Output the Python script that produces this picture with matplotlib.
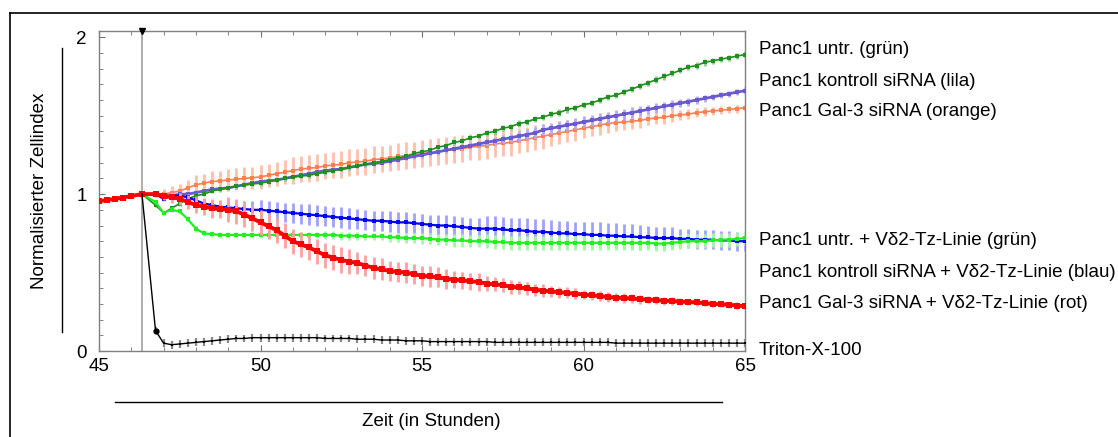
import matplotlib
matplotlib.use("Agg")
import matplotlib.pyplot as plt
import matplotlib.transforms as mtransforms
from matplotlib.lines import Line2D
from matplotlib.ticker import MultipleLocator

plt.rcParams['font.family'] = ['Liberation Sans', 'DejaVu Sans']

# ---------------- data ----------------
# before treatment (normalisation point at 46.33 h)
pre_t = [45.0, 45.25, 45.5, 45.75, 46.0, 46.33]
pre_v = [0.955, 0.962, 0.970, 0.978, 0.988, 1.0]
pre_e = [0.005, 0.005, 0.005, 0.005, 0.005, 0.005]
treatment_time = 46.33

times = [46.75, 47.0, 47.25, 47.5, 47.75,
         48.0, 48.25, 48.5, 48.75, 49.0, 49.25, 49.5, 49.75,
         50.0, 50.25, 50.5, 50.75, 51.0, 51.25, 51.5, 51.75,
         52.0, 52.25, 52.5, 52.75, 53.0, 53.25, 53.5, 53.75,
         54.0, 54.25, 54.5, 54.75, 55.0, 55.25, 55.5, 55.75,
         56.0, 56.25, 56.5, 56.75, 57.0, 57.25, 57.5, 57.75,
         58.0, 58.25, 58.5, 58.75, 59.0, 59.25, 59.5, 59.75,
         60.0, 60.25, 60.5, 60.75, 61.0, 61.25, 61.5, 61.75,
         62.0, 62.25, 62.5, 62.75, 63.0, 63.25, 63.5, 63.75,
         64.0, 64.25, 64.5, 64.75, 65.0]

untr = [0.93, 0.88, 0.91, 0.94, 0.97,
        0.99, 1.00, 1.02, 1.03, 1.04, 1.05, 1.06, 1.065,
        1.07, 1.08, 1.09, 1.10, 1.11, 1.115, 1.12, 1.13,
        1.14, 1.15, 1.16, 1.17, 1.18, 1.19, 1.20, 1.21,
        1.22, 1.23, 1.24, 1.26, 1.27, 1.28, 1.30, 1.31,
        1.33, 1.34, 1.36, 1.37, 1.39, 1.40, 1.42, 1.43,
        1.45, 1.46, 1.48, 1.49, 1.51, 1.52, 1.54, 1.55,
        1.57, 1.58, 1.60, 1.62, 1.63, 1.65, 1.67, 1.69,
        1.71, 1.73, 1.75, 1.77, 1.79, 1.81, 1.82, 1.84,
        1.85, 1.86, 1.87, 1.88, 1.89]
untr_err = [0.01, 0.015, 0.015, 0.015, 0.015,
            0.015, 0.015, 0.015, 0.015, 0.015, 0.015, 0.015, 0.015,
            0.015, 0.015, 0.015, 0.015, 0.015, 0.015, 0.015, 0.015,
            0.015, 0.015, 0.015, 0.015, 0.015, 0.015, 0.015, 0.015,
            0.015, 0.015, 0.015, 0.015, 0.015, 0.015, 0.015, 0.015,
            0.015, 0.015, 0.015, 0.015, 0.02, 0.02, 0.02, 0.02,
            0.02, 0.02, 0.02, 0.02, 0.02, 0.02, 0.02, 0.02,
            0.02, 0.02, 0.02, 0.02, 0.02, 0.02, 0.02, 0.02,
            0.02, 0.02, 0.02, 0.02, 0.02, 0.02, 0.02, 0.02,
            0.02, 0.02, 0.02, 0.02, 0.02]

ctrl = [1.00, 0.99, 0.99, 1.00, 1.00,
        1.01, 1.02, 1.03, 1.035, 1.04, 1.05, 1.06, 1.07,
        1.08, 1.085, 1.09, 1.10, 1.11, 1.12, 1.13, 1.14,
        1.15, 1.155, 1.16, 1.17, 1.18, 1.19, 1.195, 1.20,
        1.21, 1.22, 1.23, 1.24, 1.25, 1.26, 1.27, 1.28,
        1.29, 1.30, 1.31, 1.32, 1.33, 1.34, 1.35, 1.36,
        1.37, 1.38, 1.39, 1.41, 1.42, 1.43, 1.44, 1.45,
        1.46, 1.47, 1.48, 1.49, 1.50, 1.51, 1.52, 1.53,
        1.54, 1.55, 1.56, 1.57, 1.58, 1.59, 1.60, 1.61,
        1.62, 1.63, 1.64, 1.65, 1.66]
ctrl_err = [0.01, 0.01, 0.015, 0.015, 0.015,
            0.015, 0.015, 0.015, 0.015, 0.015, 0.015, 0.015, 0.015,
            0.015, 0.015, 0.015, 0.015, 0.015, 0.015, 0.015, 0.015,
            0.015, 0.015, 0.015, 0.015, 0.015, 0.015, 0.015, 0.015,
            0.015, 0.015, 0.015, 0.015, 0.02, 0.02, 0.02, 0.02,
            0.02, 0.02, 0.02, 0.02, 0.025, 0.025, 0.025, 0.025,
            0.035, 0.035, 0.035, 0.035, 0.035, 0.035, 0.035, 0.035,
            0.035, 0.035, 0.035, 0.035, 0.035, 0.035, 0.035, 0.035,
            0.03, 0.03, 0.03, 0.03, 0.025, 0.025, 0.025, 0.025,
            0.02, 0.02, 0.02, 0.02, 0.02]

gal3 = [1.00, 1.00, 1.01, 1.02, 1.04,
        1.06, 1.07, 1.08, 1.085, 1.09, 1.095, 1.10, 1.105,
        1.11, 1.12, 1.13, 1.14, 1.15, 1.16, 1.165, 1.17,
        1.18, 1.185, 1.19, 1.20, 1.205, 1.21, 1.22, 1.225,
        1.23, 1.24, 1.245, 1.25, 1.26, 1.265, 1.27, 1.28,
        1.285, 1.29, 1.30, 1.305, 1.31, 1.32, 1.325, 1.33,
        1.34, 1.35, 1.36, 1.37, 1.38, 1.39, 1.40, 1.41,
        1.42, 1.43, 1.44, 1.45, 1.455, 1.46, 1.465, 1.47,
        1.48, 1.485, 1.49, 1.50, 1.505, 1.51, 1.52, 1.525,
        1.53, 1.535, 1.54, 1.545, 1.55]
gal3_err = [0.02, 0.03, 0.04, 0.045, 0.05,
            0.06, 0.06, 0.065, 0.065, 0.07, 0.07, 0.07, 0.07,
            0.075, 0.075, 0.075, 0.075, 0.085, 0.085, 0.085, 0.085,
            0.085, 0.085, 0.085, 0.085, 0.085, 0.085, 0.085, 0.085,
            0.085, 0.085, 0.085, 0.085, 0.085, 0.085, 0.085, 0.085,
            0.085, 0.085, 0.085, 0.085, 0.085, 0.085, 0.085, 0.085,
            0.08, 0.08, 0.08, 0.08, 0.07, 0.07, 0.07, 0.07,
            0.06, 0.06, 0.06, 0.06, 0.05, 0.05, 0.05, 0.05,
            0.04, 0.04, 0.04, 0.04, 0.03, 0.03, 0.03, 0.03,
            0.025, 0.025, 0.025, 0.025, 0.02]

untr_t = [0.95, 0.88, 0.90, 0.89, 0.84,
          0.78, 0.75, 0.745, 0.74, 0.74, 0.74, 0.74, 0.74,
          0.74, 0.74, 0.74, 0.74, 0.74, 0.74, 0.74, 0.74,
          0.74, 0.74, 0.735, 0.735, 0.735, 0.73, 0.73, 0.73,
          0.725, 0.725, 0.72, 0.72, 0.72, 0.715, 0.71, 0.71,
          0.705, 0.705, 0.70, 0.70, 0.70, 0.695, 0.695, 0.69,
          0.69, 0.69, 0.69, 0.69, 0.69, 0.69, 0.69, 0.69,
          0.69, 0.69, 0.69, 0.69, 0.69, 0.69, 0.69, 0.69,
          0.69, 0.685, 0.685, 0.69, 0.695, 0.70, 0.70, 0.70,
          0.705, 0.71, 0.71, 0.715, 0.72]
untr_t_err = [0.01, 0.015, 0.015, 0.015, 0.02,
              0.02, 0.02, 0.02, 0.02, 0.02, 0.02, 0.02, 0.02,
              0.02, 0.02, 0.02, 0.02, 0.02, 0.02, 0.02, 0.02,
              0.025, 0.025, 0.025, 0.025, 0.025, 0.025, 0.025, 0.025,
              0.03, 0.03, 0.03, 0.03, 0.035, 0.035, 0.035, 0.035,
              0.04, 0.04, 0.04, 0.04, 0.045, 0.045, 0.045, 0.045,
              0.045, 0.045, 0.045, 0.045, 0.045, 0.045, 0.045, 0.045,
              0.045, 0.045, 0.045, 0.045, 0.045, 0.045, 0.045, 0.045,
              0.045, 0.045, 0.045, 0.045, 0.045, 0.045, 0.045, 0.045,
              0.045, 0.045, 0.045, 0.045, 0.045]

ctrl_t = [1.00, 0.97, 0.99, 0.99, 0.98,
          0.96, 0.94, 0.93, 0.92, 0.915, 0.91, 0.905, 0.90,
          0.90, 0.895, 0.89, 0.885, 0.88, 0.875, 0.87, 0.865,
          0.86, 0.855, 0.85, 0.845, 0.84, 0.835, 0.83, 0.83,
          0.825, 0.82, 0.82, 0.815, 0.81, 0.805, 0.80, 0.80,
          0.795, 0.79, 0.785, 0.78, 0.78, 0.78, 0.775, 0.77,
          0.77, 0.765, 0.76, 0.76, 0.755, 0.75, 0.75, 0.745,
          0.745, 0.74, 0.74, 0.735, 0.735, 0.73, 0.73, 0.725,
          0.725, 0.72, 0.72, 0.72, 0.715, 0.715, 0.71, 0.71,
          0.71, 0.705, 0.705, 0.70, 0.70]
ctrl_t_err = [0.01, 0.015, 0.02, 0.02, 0.02,
              0.025, 0.03, 0.035, 0.035, 0.04, 0.045, 0.05, 0.055,
              0.06, 0.06, 0.06, 0.06, 0.065, 0.065, 0.065, 0.065,
              0.065, 0.065, 0.065, 0.065, 0.065, 0.065, 0.065, 0.065,
              0.065, 0.065, 0.065, 0.065, 0.065, 0.065, 0.065, 0.065,
              0.065, 0.065, 0.065, 0.065, 0.08, 0.08, 0.08, 0.08,
              0.08, 0.08, 0.08, 0.08, 0.08, 0.08, 0.08, 0.08,
              0.08, 0.08, 0.08, 0.08, 0.08, 0.08, 0.08, 0.08,
              0.07, 0.07, 0.07, 0.07, 0.06, 0.06, 0.06, 0.06,
              0.06, 0.06, 0.06, 0.06, 0.06]

gal3_t = [1.00, 0.99, 0.98, 0.97, 0.95,
          0.93, 0.92, 0.91, 0.905, 0.90, 0.89, 0.87, 0.845,
          0.82, 0.795, 0.77, 0.735, 0.70, 0.68, 0.66, 0.635,
          0.61, 0.595, 0.58, 0.57, 0.56, 0.545, 0.53, 0.52,
          0.51, 0.505, 0.50, 0.49, 0.48, 0.475, 0.47, 0.46,
          0.455, 0.45, 0.445, 0.44, 0.43, 0.425, 0.42, 0.41,
          0.405, 0.40, 0.39, 0.385, 0.38, 0.375, 0.37, 0.365,
          0.36, 0.355, 0.35, 0.345, 0.34, 0.338, 0.335, 0.33,
          0.328, 0.325, 0.32, 0.318, 0.315, 0.312, 0.31, 0.305,
          0.30, 0.298, 0.295, 0.29, 0.285]
gal3_t_err = [0.02, 0.03, 0.035, 0.04, 0.045,
              0.05, 0.055, 0.06, 0.06, 0.08, 0.08, 0.08, 0.08,
              0.08, 0.08, 0.08, 0.08, 0.08, 0.08, 0.08, 0.08,
              0.08, 0.08, 0.08, 0.08, 0.07, 0.07, 0.07, 0.07,
              0.065, 0.065, 0.065, 0.065, 0.065, 0.065, 0.065, 0.065,
              0.055, 0.055, 0.055, 0.055, 0.045, 0.045, 0.045, 0.045,
              0.04, 0.04, 0.04, 0.04, 0.035, 0.035, 0.035, 0.035,
              0.03, 0.03, 0.03, 0.03, 0.03, 0.03, 0.03, 0.03,
              0.025, 0.025, 0.025, 0.025, 0.02, 0.02, 0.02, 0.02,
              0.02, 0.02, 0.02, 0.02, 0.015]

triton = [0.13, 0.05, 0.04, 0.045, 0.05,
          0.055, 0.06, 0.065, 0.07, 0.075, 0.08, 0.08, 0.085,
          0.085, 0.085, 0.085, 0.085, 0.085, 0.085, 0.085, 0.085,
          0.08, 0.08, 0.08, 0.08, 0.075, 0.075, 0.075, 0.07,
          0.07, 0.07, 0.065, 0.065, 0.065, 0.06, 0.06, 0.06,
          0.06, 0.06, 0.06, 0.06, 0.06, 0.055, 0.055, 0.055,
          0.055, 0.055, 0.055, 0.055, 0.055, 0.055, 0.055, 0.055,
          0.055, 0.055, 0.055, 0.055, 0.05, 0.05, 0.05, 0.05,
          0.05, 0.05, 0.05, 0.05, 0.05, 0.05, 0.05, 0.05,
          0.05, 0.05, 0.05, 0.05, 0.05]
triton_err = [0.02, 0.025, 0.025, 0.025, 0.025,
              0.025, 0.025, 0.025, 0.025, 0.025, 0.025, 0.025, 0.025,
              0.025, 0.025, 0.025, 0.025, 0.025, 0.025, 0.025, 0.025,
              0.025, 0.025, 0.025, 0.025, 0.025, 0.025, 0.025, 0.025,
              0.025, 0.025, 0.025, 0.025, 0.025, 0.025, 0.025, 0.025,
              0.025, 0.025, 0.025, 0.025, 0.025, 0.025, 0.025, 0.025,
              0.025, 0.025, 0.025, 0.025, 0.025, 0.025, 0.025, 0.025,
              0.025, 0.025, 0.025, 0.025, 0.025, 0.025, 0.025, 0.025,
              0.025, 0.025, 0.025, 0.025, 0.025, 0.025, 0.025, 0.025,
              0.025, 0.025, 0.025, 0.025, 0.025]

labels = ["Panc1 untr. (grün)",
          "Panc1 kontroll siRNA (lila)",
          "Panc1 Gal-3 siRNA (orange)",
          "Panc1 untr. + V\u03b42-Tz-Linie (grün)",
          "Panc1 kontroll siRNA + V\u03b42-Tz-Linie (blau)",
          "Panc1 Gal-3 siRNA + V\u03b42-Tz-Linie (rot)",
          "Triton-X-100"]
label_y = [1.924, 1.72, 1.529, 0.707, 0.503, 0.306, 0.006]

# ---------------- figure ----------------
W, H = 1118, 437
fig = plt.figure(figsize=(W / 100, H / 100), dpi=100)
ax = fig.add_axes([99 / W, 1 - 351 / H, 646 / W, 320 / H])

def series(vals, errs, color, ecolor, lw=1.2, ms=2.2, z=2):
    t = pre_t + times
    v = pre_v + vals
    e = pre_e + errs
    ax.errorbar(t, v, yerr=e, fmt='-s', color=color, lw=lw, ms=ms, mew=0,
                ecolor=ecolor, elinewidth=2.0, capsize=2.6, capthick=1.0,
                zorder=z)

series(gal3, gal3_err, '#ff7f50', '#ffc0a8', z=2)
series(ctrl, ctrl_err, '#6a5acd', '#b4aaf4', lw=2.0, ms=3, z=3)
series(untr, untr_err, '#1f8f1f', '#8ccc8c', z=3)
series(ctrl_t, ctrl_t_err, '#0000ff', '#a0a0ff', lw=1.6, z=4)
series(untr_t, untr_t_err, '#22ee22', '#a6f7a6', lw=1.6, z=4)
series(gal3_t, gal3_t_err, '#ff0000', '#ffa0a0', lw=2.8, ms=4, z=5)

# Triton (drops from the normalisation point)
tt = [pre_t[-1]] + times
tv = [pre_v[-1]] + triton
te = [0.0] + triton_err
ax.errorbar(tt, tv, yerr=te, fmt='-s', color='black', lw=1.0, ms=2, mew=0,
            ecolor='#888888', elinewidth=1.6, capsize=2.4, capthick=0.9, zorder=6)
ax.plot(times[0], triton[0], 'o', color='black', ms=3.5, zorder=7)

# treatment marker
ax.axvline(treatment_time, color='#a0a0a0', lw=1.2, zorder=1)
ax.plot([treatment_time], [2.04], marker='v', color='black', ms=4,
        clip_on=False, zorder=8)

ax.set_xlim(45, 65)
ax.set_ylim(0, 2.04)
ax.xaxis.set_major_locator(MultipleLocator(5))
ax.xaxis.set_minor_locator(MultipleLocator(1))
ax.set_yticks([0, 1, 2])
ax.yaxis.set_minor_locator(MultipleLocator(0.1))
ax.tick_params(axis='both', which='both', direction='in', top=True, right=False,
               color='#707070', labelsize=13.5)
ax.tick_params(axis='x', which='major', length=4, pad=5)
ax.tick_params(axis='x', which='minor', length=3)
ax.tick_params(axis='y', which='major', length=4, pad=9)
ax.tick_params(axis='y', which='minor', length=3)
for s in ax.spines.values():
    s.set_color('#808080')
    s.set_linewidth(1.0)

# right-hand labels
trans = mtransforms.blended_transform_factory(ax.transAxes, ax.transData)
for lab, y in zip(labels, label_y):
    ax.text(1.0217, y, lab, transform=trans, va='center', ha='left',
            fontsize=13.5, clip_on=False)

# axis titles with decorative rules
fig.text(40 / W, 1 - 191 / H, "Normalisierter Zellindex", rotation=90,
         ha='center', va='center', fontsize=13.5)
fig.add_artist(Line2D([62 / W, 62 / W], [1 - 48 / H, 1 - 332 / H],
                      color='black', lw=1.0))
fig.text(431 / W, 1 - 421 / H, "Zeit (in Stunden)", ha='center', va='center',
         fontsize=13.5)
fig.add_artist(Line2D([115 / W, 722 / W], [1 - 402 / H, 1 - 402 / H],
                      color='black', lw=1.0))

# outer frame
fig.add_artist(Line2D([9.5 / W, 1.0], [1 - 12.5 / H, 1 - 12.5 / H], color='black', lw=1.2))
fig.add_artist(Line2D([9.5 / W, 9.5 / W], [1 - 12.5 / H, 0.0], color='black', lw=1.2))

fig.savefig('out.png', dpi=100)
